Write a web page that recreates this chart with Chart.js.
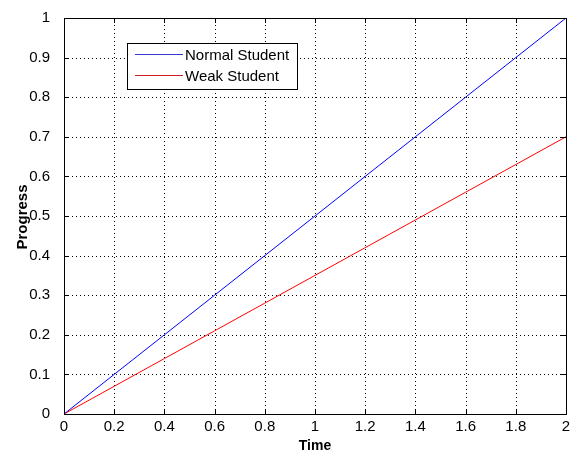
<!DOCTYPE html>
<html><head><meta charset="utf-8">
<script src="https://cdn.jsdelivr.net/npm/chart.js@4/dist/chart.umd.min.js"></script>
<style>html,body{margin:0;padding:0;background:#fff;}#wrap{width:570px;height:453px;}</style>
</head><body><div id="wrap"><canvas id="c" width="570" height="453"></canvas></div>
<script>
const timeValues = [0, 0.2, 0.4, 0.6, 0.8, 1.0, 1.2, 1.4, 1.6, 1.8, 2.0];
const normalStudent = [0, 0.1, 0.2, 0.3, 0.4, 0.5, 0.6, 0.7, 0.8, 0.9, 1.0];
const weakStudent = [0, 0.07, 0.14, 0.21, 0.28, 0.35, 0.42, 0.49, 0.56, 0.63, 0.70];
const seriesNames = ['Normal Student', 'Weak Student'];
const seriesColors = ['#0000ff', '#ff0000'];
const legendColors = ['#3a3ad0', '#d02020'];
const xTicks = [0, 0.2, 0.4, 0.6, 0.8, 1, 1.2, 1.4, 1.6, 1.8, 2];
const yTicks = [0, 0.1, 0.2, 0.3, 0.4, 0.5, 0.6, 0.7, 0.8, 0.9, 1];
const xTitle = 'Time';
const yTitle = 'Progress';

const FONT = '"Liberation Sans", Arial, sans-serif';
const toPts = ys => timeValues.map((x, i) => ({x, y: ys[i]}));

const grid = {
  id: 'dotgrid',
  beforeDatasetsDraw(chart) {
    const {ctx, chartArea: a, scales: {x, y}} = chart;
    ctx.save();
    ctx.strokeStyle = '#000'; ctx.lineWidth = 1; ctx.setLineDash([1, 3]);
    ctx.beginPath();
    xTicks.forEach(v => { const px = Math.round(x.getPixelForValue(v)) + 0.5;
      ctx.moveTo(px, a.bottom); ctx.lineTo(px, a.top); });
    yTicks.forEach(v => { const py = Math.round(y.getPixelForValue(v)) + 0.5;
      ctx.moveTo(a.left, py); ctx.lineTo(a.right, py); });
    ctx.stroke();
    ctx.restore();
  }
};

const frame = {
  id: 'frame',
  afterDraw(chart) {
    const {ctx, chartArea: a, scales: {x, y}} = chart;
    ctx.save();
    ctx.strokeStyle = '#000'; ctx.lineWidth = 1;
    ctx.strokeRect(Math.round(a.left) + 0.5, Math.round(a.top) + 0.5, Math.round(a.right - a.left), Math.round(a.bottom - a.top));
    ctx.beginPath();
    const L = 5;
    xTicks.forEach(v => { const px = Math.round(x.getPixelForValue(v)) + 0.5;
      ctx.moveTo(px, a.bottom); ctx.lineTo(px, a.bottom - L);
      ctx.moveTo(px, a.top); ctx.lineTo(px, a.top + L); });
    yTicks.forEach(v => { const py = Math.round(y.getPixelForValue(v)) + 0.5;
      ctx.moveTo(a.left, py); ctx.lineTo(a.left + L, py);
      ctx.moveTo(a.right, py); ctx.lineTo(a.right - L, py); });
    ctx.stroke();
    // axis titles
    ctx.fillStyle = '#000';
    ctx.textAlign = 'center'; ctx.textBaseline = 'alphabetic';
    ctx.font = 'bold 14px ' + FONT;
    ctx.fillText(xTitle, (a.left + a.right) / 2, 450);
    ctx.font = 'bold 15px ' + FONT;
    ctx.save();
    ctx.translate(27, 217); ctx.rotate(-Math.PI / 2);
    ctx.fillText(yTitle, 0, 0);
    ctx.restore();
    // legend box
    const bx = 127.5, by = 43.5, bw = 170, bh = 46;
    ctx.fillStyle = '#fff'; ctx.fillRect(bx, by, bw, bh);
    ctx.strokeStyle = '#000'; ctx.strokeRect(bx, by, bw, bh);
    ctx.font = '15px ' + FONT; ctx.textBaseline = 'middle'; ctx.textAlign = 'left';
    seriesNames.forEach((name, i) => {
      const ly = 54.5 + i * 21;
      ctx.strokeStyle = legendColors[i];
      ctx.beginPath();
      ctx.moveTo(135, ly); ctx.lineTo(183, ly); ctx.stroke();
      ctx.fillStyle = '#000'; ctx.fillText(name, 185, ly + 1.5);
    });
    ctx.restore();
  }
};

new Chart(document.getElementById('c'), {
  type: 'scatter',
  data: { datasets: [
    { label: seriesNames[0], data: toPts(normalStudent), borderColor: seriesColors[0], showLine: true, pointRadius: 0, borderWidth: 1, tension: 0 },
    { label: seriesNames[1], data: toPts(weakStudent), borderColor: seriesColors[1], showLine: true, pointRadius: 0, borderWidth: 1, tension: 0 }
  ]},
  options: {
    responsive: false, animation: false,
    layout: { padding: { top: 18, right: 4, left: 0, bottom: 0 } },
    plugins: { legend: { display: false }, tooltip: { enabled: false } },
    scales: {
      x: { type: 'linear', min: 0, max: 2,
        afterBuildTicks: s => { s.ticks = xTicks.map(v => ({value: v})); },
        afterFit: s => { s.height = 39; },
        border: { display: false },
        grid: { display: false },
        ticks: { color: '#000', font: { family: FONT, size: 15 }, padding: -4, maxRotation: 0,
          callback: v => String(Math.round(v * 10) / 10) }
      },
      y: { type: 'linear', min: 0, max: 1,
        afterBuildTicks: s => { s.ticks = yTicks.map(v => ({value: v})); },
        afterFit: s => { s.width = 64; },
        border: { display: false },
        grid: { display: false },
        ticks: { color: '#000', font: { family: FONT, size: 15 }, padding: 6,
          callback: v => String(Math.round(v * 10) / 10) }
      }
    }
  },
  plugins: [grid, frame]
});
</script></body></html>
